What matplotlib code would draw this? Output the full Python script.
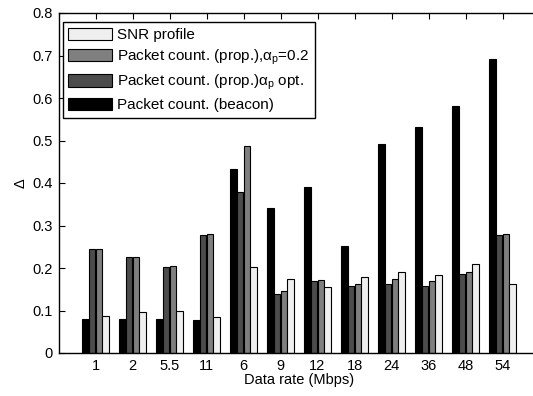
import numpy as np
import matplotlib
matplotlib.use("Agg")
import matplotlib.pyplot as plt

plt.rcParams['font.family'] = ['Liberation Sans', 'DejaVu Sans']
plt.rcParams['mathtext.fontset'] = 'custom'
plt.rcParams['mathtext.rm'] = 'Liberation Sans'
plt.rcParams['mathtext.it'] = 'Liberation Sans'

rates = ['1', '2', '5.5', '11', '6', '9', '12', '18', '24', '36', '48', '54']
beacon = [0.08, 0.08, 0.08, 0.077, 0.432, 0.342, 0.391, 0.252, 0.492, 0.532, 0.581, 0.692]
prop_opt = [0.245, 0.225, 0.202, 0.277, 0.38, 0.14, 0.169, 0.158, 0.162, 0.158, 0.186, 0.278]
prop_02 = [0.245, 0.225, 0.205, 0.28, 0.487, 0.145, 0.172, 0.162, 0.174, 0.169, 0.191, 0.281]
snr = [0.087, 0.097, 0.10, 0.084, 0.202, 0.174, 0.156, 0.18, 0.191, 0.183, 0.209, 0.162]

series = [beacon, prop_opt, prop_02, snr]
colors = ['#000000', '#4c4c4c', '#7f7f7f', '#efefef']
labels = ['Packet count. (beacon)',
          r'Packet count. (prop.)$\alpha_\mathrm{p}$ opt.',
          r'Packet count. (prop.),$\alpha_\mathrm{p}$=0.2',
          'SNR profile']

FS = 10.5
W, H = 533, 396
fig = plt.figure(figsize=(W / 100, H / 100), dpi=100)
ax = fig.add_axes([58.5 / W, 1 - 353 / H, 481 / W, 340 / H])

x = np.arange(1, len(rates) + 1)
step = 0.18
width = 0.17
bars = []
for i, (vals, c) in enumerate(zip(series, colors)):
    b = ax.bar(x + (i - 1.5) * step, vals, width, color=c,
               edgecolor='black', linewidth=0.8)
    bars.append(b)

ax.set_xlim(0, 13)
ax.set_ylim(0, 0.8)
ax.set_xticks(x)
ax.set_xticklabels(rates)
ax.set_yticks(np.arange(0, 0.81, 0.1))
ax.set_yticklabels(['0', '0.1', '0.2', '0.3', '0.4', '0.5', '0.6', '0.7', '0.8'])
ax.tick_params(direction='in', length=4, width=0.8, labelsize=FS,
               top=True, right=True, colors='black', pad=4)
for s in ax.spines.values():
    s.set_linewidth(1.0)
ax.set_xlabel('Data rate (Mbps)', fontsize=FS, labelpad=0)
ax.set_ylabel(r'$\Delta$', fontsize=FS, labelpad=3)

leg = ax.legend(bars[::-1], labels[::-1], loc='upper left',
                bbox_to_anchor=(0.009, 0.973), fontsize=11,
                handlelength=2.9, handleheight=0.85, labelspacing=0.38,
                handletextpad=0.3, borderpad=0.35, fancybox=False,
                framealpha=1, edgecolor='black', borderaxespad=0)
leg.get_frame().set_linewidth(1.0)

fig.savefig('out.png', dpi=100)
